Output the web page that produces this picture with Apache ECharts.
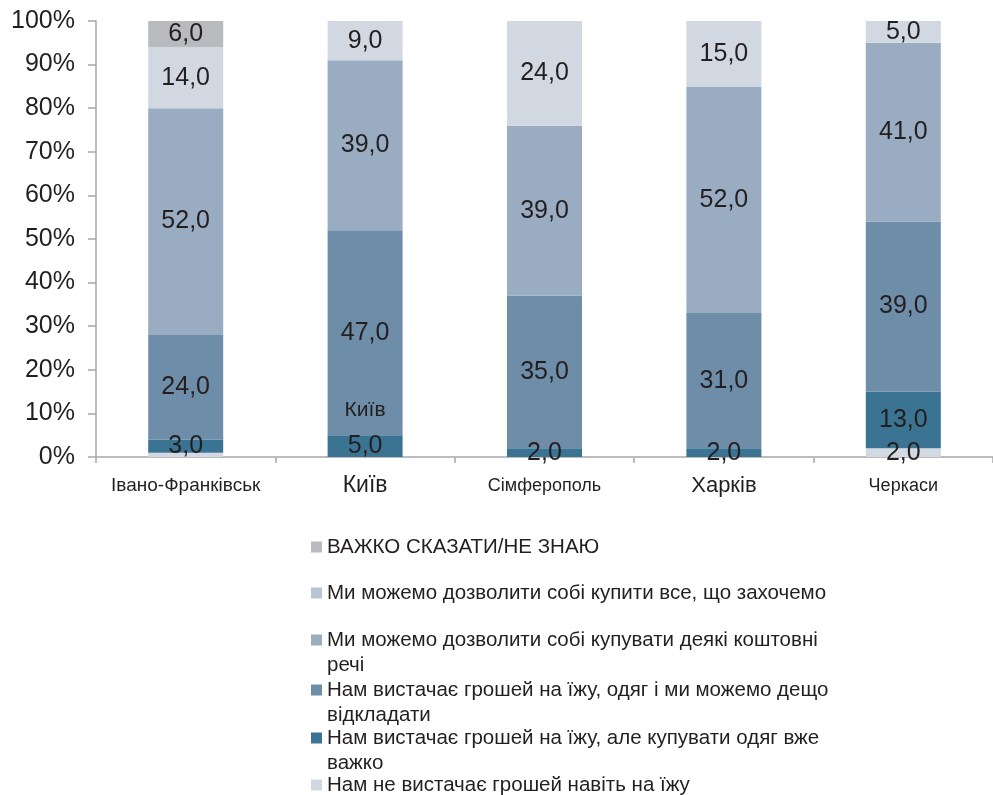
<!DOCTYPE html>
<html>
<head>
<meta charset="utf-8">
<script src="https://cdn.jsdelivr.net/npm/echarts@6/dist/echarts.min.js"></script>
<style>
  html, body { margin: 0; padding: 0; background: #ffffff; }
  #chart { width: 993px; height: 795px; }
</style>
</head>
<body>
<div id="chart"></div>
<script>
// Cities along the category axis
const categories = ['Івано-Франківськ', 'Київ', 'Сімферополь', 'Харків', 'Черкаси'];

// Answer shares, % of respondents (stacked bottom to top)
const notEnoughFood   = [1, 0, 0, 0, 2];
const foodOnly        = [3, 5, 2, 2, 13];
const foodClothesSave = [24, 47, 35, 31, 39];
const someValuables   = [52, 39, 39, 52, 41];
const anything        = [14, 9, 24, 15, 5];
const hardToSay       = [6, 0, 0, 0, 0];

// Y axis ticks
const yTicks = [0, 10, 20, 30, 40, 50, 60, 70, 80, 90, 100];

const seriesNames = [
  'Нам не вистачає грошей навіть на їжу',
  'Нам вистачає грошей на їжу, але купувати одяг вже важко',
  'Нам вистачає грошей на їжу, одяг і ми можемо дещо відкладати',
  'Ми можемо дозволити собі купувати деякі коштовні речі',
  'Ми можемо дозволити собі купити все, що захочемо',
  'ВАЖКО СКАЗАТИ/НЕ ЗНАЮ'
];
const seriesData = [notEnoughFood, foodOnly, foodClothesSave, someValuables, anything, hardToSay];
const seriesColors = ['#d3d9e2', '#3b7393', '#6e8da8', '#9aacc1', '#d1d8e2', '#b8babd'];
const legendIconColors = ['#d0d7e0', '#3b7393', '#6e8da8', '#9aacc1', '#b9c5d3', '#b8babd'];

const FONT_NAME = 'Liberation Sans';
const FONT = '"Liberation Sans", Arial, Helvetica, sans-serif';
const TEXT = '#231f20';
const LEGEND_FONT_SIZE = 20.5;
const LEGEND_WRAP = 505;

// Word-wrap a legend caption to the given pixel width
const measureCtx = document.createElement('canvas').getContext('2d');
function wrapText(str, size, maxW) {
  measureCtx.font = size + 'px "' + FONT_NAME + '"';
  const words = str.split(' ');
  const lines = [];
  let line = '';
  words.forEach(w => {
    const test = line ? line + ' ' + w : w;
    if (line && measureCtx.measureText(test).width > maxW) {
      lines.push(line);
      line = w;
    } else {
      line = test;
    }
  });
  if (line) lines.push(line);
  return lines;
}

// Per-city label sizes on the category axis
const catFontSizes = [19, 23, 18, 22, 18];
const catRich = {};
catFontSizes.forEach((s, i) => {
  catRich['c' + i] = { fontSize: s, fontFamily: FONT, color: TEXT };
});

const chart = echarts.init(document.getElementById('chart'), null, { renderer: 'canvas' });

const series = seriesNames.map((name, i) => {
  const s = {
    name: name,
    type: 'bar',
    stack: 'total',
    barWidth: 75,
    data: seriesData[i],
    itemStyle: { color: seriesColors[i] },
    label: {
      show: true,
      position: 'inside',
      fontSize: 25,
      fontFamily: FONT,
      color: TEXT,
      // shares under 2% are left unlabeled
      formatter: p => (p.value >= 2 ? p.value.toFixed(1).replace('.', ',') : '')
    },
    emphasis: { disabled: true }
  };
  if (i === 0) {
    // city caption placed inside the Kyiv bar
    s.markPoint = {
      symbol: 'circle',
      symbolSize: 0,
      silent: true,
      label: {
        show: true,
        position: 'inside',
        fontSize: 21,
        fontFamily: FONT,
        color: TEXT,
        formatter: 'Київ'
      },
      data: [{ coord: ['Київ', 10.8] }]
    };
  }
  return s;
});

// Legend: one block per answer, listed top to bottom in reverse stack order.
// Wrapped captions get blank leading lines so the icon stays level with
// the first text line (legend text is centred on its icon).
const iconCentres = [785, 738, 690, 640, 593, 547];
const LINE_H = 25;
const legends = seriesNames.map((name, i) => {
  const lines = wrapText(name, LEGEND_FONT_SIZE, LEGEND_WRAP);
  const pad = lines.length - 1;
  const shown = new Array(pad).fill(' ').concat(lines);
  const blockH = shown.length * LINE_H;
  return {
    show: true,
    orient: 'vertical',
    left: 311,
    top: iconCentres[i] - blockH / 2,
    padding: 0,
    itemWidth: 11,
    itemHeight: 11,
    icon: 'rect',
    selectedMode: false,
    data: [{ name: name, itemStyle: { color: legendIconColors[i] } }],
    formatter: () => shown.join('\n'),
    textStyle: {
      fontSize: LEGEND_FONT_SIZE,
      fontFamily: FONT,
      color: TEXT,
      lineHeight: LINE_H
    }
  };
});

chart.setOption({
  backgroundColor: '#ffffff',
  animation: false,
  grid: { left: 96, top: 21, width: 908, height: 436, containLabel: false },
  legend: legends,
  xAxis: {
    type: 'category',
    data: categories,
    boundaryGap: true,
    axisLine: { show: true, lineStyle: { color: '#a7a7a7', width: 1.5 } },
    axisTick: { show: true, length: 6, lineStyle: { color: '#a7a7a7', width: 1.5 } },
    axisLabel: {
      margin: 29,
      verticalAlign: 'middle',
      interval: 0,
      rich: catRich,
      formatter: (v, idx) => '{c' + idx + '|' + v + '}'
    },
    splitLine: { show: false }
  },
  yAxis: {
    type: 'value',
    min: yTicks[0],
    max: yTicks[yTicks.length - 1],
    interval: yTicks[1] - yTicks[0],
    axisLine: { show: true, lineStyle: { color: '#a7a7a7', width: 1.5 } },
    axisTick: { show: true, length: 8, lineStyle: { color: '#a7a7a7', width: 1.5 } },
    axisLabel: {
      margin: 21,
      fontSize: 25,
      fontFamily: FONT,
      color: TEXT,
      formatter: '{value}%'
    },
    splitLine: { show: false }
  },
  series: series
});
</script>
</body>
</html>
